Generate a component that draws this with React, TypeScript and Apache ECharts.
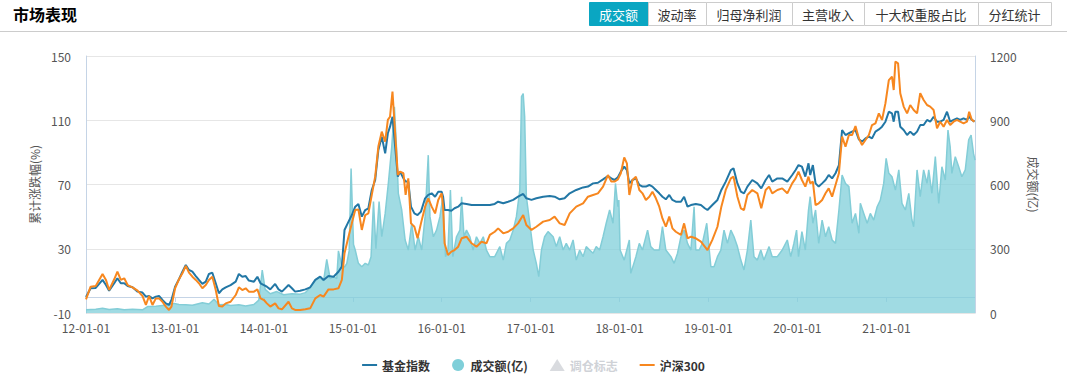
import React, { useEffect, useRef } from 'react';
import * as echarts from 'echarts';

// ---------- data ----------
const lineDates: string[] = [
  '2012-01-01','2012-01-20','2012-02-10','2012-03-09','2012-03-23','2012-04-05','2012-04-26','2012-05-09','2012-05-23','2012-06-06',
  '2012-06-20','2012-07-10','2012-07-31','2012-08-20','2012-09-03','2012-09-16','2012-09-30','2012-10-14','2012-10-27','2012-11-10',
  '2012-11-24','2012-12-07','2012-12-17','2013-01-01','2013-01-17','2013-01-31','2013-02-14','2013-02-27','2013-03-13','2013-03-27',
  '2013-04-09','2013-04-23','2013-05-07','2013-05-20','2013-06-03','2013-06-17','2013-06-30','2013-07-14','2013-07-28','2013-08-17',
  '2013-09-07','2013-09-20','2013-10-04','2013-10-18','2013-10-31','2013-11-21','2013-12-05','2013-12-18','2014-01-01','2014-01-13',
  '2014-01-27','2014-02-16','2014-03-02','2014-03-16','2014-04-12','2014-04-26','2014-05-09','2014-05-30','2014-06-20','2014-07-10',
  '2014-07-31','2014-08-20','2014-09-03','2014-09-23','2014-10-14','2014-11-03','2014-11-17','2014-11-28','2014-12-11','2014-12-28',
  '2015-01-11','2015-01-24','2015-02-07','2015-02-21','2015-03-06','2015-03-20','2015-04-03','2015-04-16','2015-04-30','2015-05-14',
  '2015-05-25','2015-06-03','2015-06-13','2015-06-24','2015-07-05','2015-07-14','2015-07-28','2015-08-06','2015-08-17','2015-08-28',
  '2015-09-11','2015-09-24','2015-10-08','2015-10-25','2015-11-07','2015-11-21','2015-12-05','2015-12-18','2016-01-01','2016-01-07',
  '2016-01-13','2016-01-27','2016-02-10','2016-02-23','2016-03-09','2016-03-23','2016-04-12','2016-05-03','2016-05-23','2016-06-13',
  '2016-07-03','2016-07-17','2016-08-06','2016-08-20','2016-09-10','2016-09-30','2016-10-21','2016-11-10','2016-12-01','2016-12-14',
  '2017-01-04','2017-01-24','2017-02-21','2017-03-20','2017-04-09','2017-04-30','2017-05-20','2017-06-10','2017-07-07','2017-08-04',
  '2017-08-24','2017-09-14','2017-10-04','2017-10-25','2017-11-14','2017-11-28','2017-12-11','2017-12-25','2018-01-06','2018-01-20',
  '2018-01-31','2018-02-10','2018-02-23','2018-03-09','2018-03-23','2018-04-05','2018-04-19','2018-05-03','2018-05-16','2018-05-30',
  '2018-06-13','2018-06-26','2018-07-10','2018-07-24','2018-08-06','2018-08-20','2018-09-10','2018-09-23','2018-10-07','2018-10-21',
  '2018-11-10','2018-12-01','2018-12-17','2018-12-28','2019-01-17','2019-02-07','2019-02-23','2019-03-13','2019-04-03','2019-04-14',
  '2019-04-30','2019-05-14','2019-05-27','2019-06-10','2019-06-30','2019-07-21','2019-08-06','2019-08-24','2019-09-07','2019-09-20',
  '2019-10-11','2019-10-31','2019-11-21','2019-12-11','2019-12-25','2020-01-06','2020-01-20','2020-02-03','2020-02-16','2020-02-23',
  '2020-03-05','2020-03-16','2020-03-29','2020-04-12','2020-04-26','2020-05-09','2020-05-23','2020-06-06','2020-06-20','2020-07-03',
  '2020-07-17','2020-07-31','2020-08-13','2020-08-27','2020-09-10','2020-09-23','2020-10-07','2020-10-21','2020-11-03','2020-11-17',
  '2020-12-01','2020-12-14','2020-12-28','2021-01-11','2021-01-24','2021-01-31','2021-02-07','2021-02-18','2021-02-27','2021-03-13',
  '2021-03-27','2021-04-09','2021-04-23','2021-05-07','2021-05-20','2021-06-03','2021-06-17','2021-06-30','2021-07-14','2021-07-28',
  '2021-08-10','2021-08-24','2021-09-07','2021-09-20','2021-10-04','2021-10-18','2021-10-31','2021-11-14','2021-11-28','2021-12-07',
  '2021-12-18','2021-12-29'
];

const fundIndex: number[] = [
  0, 5.4, 5.6, 10.6, 7.4, 3.9, 8.5, 11.6, 8.5, 8.5,
  6.8, 6.0, 3.3, 2.7, 0.2, 0.6, -0.9, 0.2, 0.6, -1.9,
  -4.0, -5.0, -1.9, 6.4, 11.0, 15.7, 19.9, 16.8, 15.7, 13.0,
  10.6, 8.1, 9.5, 14.3, 15.1, 8.5, 2.3, 4.7, 6.0, 7.4,
  9.5, 14.3, 12.6, 13.0, 10.2, 9.5, 12.6, 8.5, 7.4, 6.4,
  4.7, 8.1, 4.7, 3.3, 7.4, 5.4, 3.3, 3.9, 4.7, 6.0,
  10.6, 12.6, 10.6, 13.0, 12.6, 15.7, 18.9, 41.7, 45.8, 51.0,
  56.2, 57.9, 50.0, 54.1, 55.2, 66.6, 72.8, 91.5, 99.8, 89.4,
  101.9, 106.0, 112.2, 93.6, 74.9, 78.0, 73.8, 71.8, 71.8, 56.2,
  52.0, 51.0, 53.1, 61.4, 63.5, 64.5, 62.4, 65.5, 65.5, 62.4,
  54.1, 54.1, 53.7, 55.2, 56.2, 58.3, 57.9, 57.2, 57.2, 57.2,
  57.2, 57.2, 57.9, 59.3, 58.3, 59.3, 60.4, 62.4, 64.1, 61.4,
  60.4, 61.4, 62.4, 62.8, 62.4, 60.8, 61.4, 64.5, 66.6, 68.2,
  68.7, 70.7, 71.1, 73.2, 75.3, 73.8, 72.8, 74.5, 78.0, 81.1,
  79.0, 70.7, 72.8, 73.8, 69.7, 68.7, 68.7, 69.7, 68.7, 66.6,
  64.5, 62.4, 60.8, 63.5, 60.4, 59.3, 59.3, 62.4, 56.2, 57.2,
  57.9, 57.2, 55.2, 54.1, 57.2, 60.4, 66.6, 71.8, 79.0, 80.1,
  70.7, 65.5, 64.5, 68.7, 72.8, 70.7, 67.6, 72.8, 75.9, 71.8,
  73.8, 73.8, 71.8, 75.9, 79.0, 82.1, 81.1, 74.9, 83.2, 75.9,
  82.1, 70.7, 68.7, 70.7, 72.8, 75.9, 73.8, 77.0, 82.1, 103.9,
  100.8, 101.9, 102.9, 103.9, 98.1, 96.7, 98.7, 99.8, 98.7, 102.9,
  104.3, 106.0, 109.1, 115.3, 114.3, 109.1, 115.3, 115.3, 106.0, 103.9,
  100.8, 102.9, 100.8, 102.9, 107.0, 107.0, 110.2, 109.1, 112.2, 109.1,
  109.1, 110.2, 115.3, 109.1, 110.2, 111.2, 110.2, 111.2, 110.2, 112.2,
  110.2, 109.1
];

const hs300: number[] = [
  -1.5, 6.4, 6.8, 14.3, 10.6, 4.3, 11.0, 15.7, 10.6, 11.6,
  7.4, 6.0, 3.9, 0.6, -5.0, 0.6, -5.0, -0.9, -0.9, -3.0,
  -6.0, -8.1, -6.0, 5.4, 11.0, 14.7, 19.3, 15.1, 12.6, 10.6,
  8.5, 5.4, 7.4, 10.6, 12.6, 4.3, -5.6, -6.0, -4.0, -3.0,
  1.2, 6.0, 4.3, 5.4, 3.3, 3.3, 4.7, -0.9, -1.9, -4.0,
  -6.0, -4.0, -7.1, -7.7, -3.0, -7.1, -8.1, -8.1, -7.7, -7.1,
  -0.9, 1.2, 0.2, 4.7, 4.7, 5.4, 10.6, 27.2, 35.5, 45.8,
  54.1, 54.5, 41.7, 51.0, 52.0, 63.5, 74.9, 93.6, 102.9, 96.7,
  110.2, 112.2, 127.8, 101.9, 75.9, 78.0, 77.0, 63.5, 73.8, 45.8,
  43.7, 36.5, 45.8, 56.2, 61.4, 56.2, 52.0, 60.4, 64.5, 56.2,
  33.4, 26.1, 28.2, 29.2, 31.3, 36.5, 37.5, 33.4, 31.3, 34.4,
  33.4, 38.6, 40.6, 42.7, 39.6, 40.6, 42.7, 45.8, 51.0, 44.8,
  41.7, 43.7, 46.9, 47.9, 50.0, 45.8, 44.8, 52.0, 56.2, 58.3,
  62.4, 63.5, 64.5, 68.7, 75.9, 71.8, 71.8, 73.2, 77.0, 86.9,
  83.2, 63.5, 72.8, 74.9, 66.6, 64.5, 60.4, 62.4, 65.5, 61.4,
  56.2, 48.9, 43.7, 50.0, 42.7, 40.6, 38.6, 45.8, 36.5, 37.5,
  36.5, 34.4, 31.3, 29.2, 35.5, 43.7, 56.2, 66.6, 73.8, 74.9,
  62.4, 55.2, 54.1, 63.5, 66.6, 64.5, 55.2, 66.6, 68.7, 64.5,
  66.6, 67.6, 64.5, 70.7, 73.8, 78.0, 72.8, 68.7, 74.9, 70.7,
  71.8, 57.2, 58.3, 60.4, 64.5, 67.6, 62.4, 69.7, 77.0, 99.8,
  93.6, 100.8, 100.8, 106.4, 98.7, 94.6, 97.7, 100.8, 107.0, 108.1,
  114.3, 110.2, 120.5, 135.0, 137.1, 128.8, 146.5, 145.4, 126.8, 118.5,
  114.3, 119.5, 116.4, 114.3, 126.8, 122.6, 119.5, 118.5, 116.4, 105.0,
  109.1, 106.0, 110.2, 107.0, 109.1, 110.2, 109.1, 108.1, 109.1, 115.3,
  110.2, 109.1
];

const volDates: string[] = [
  '2012-01-01','2012-02-10','2012-03-09','2012-04-05','2012-05-09','2012-06-06','2012-07-10','2012-08-20','2012-09-10','2012-10-14',
  '2012-11-10','2012-12-07','2012-12-28','2013-01-17','2013-02-14','2013-03-13','2013-04-23','2013-05-20','2013-06-10','2013-06-30',
  '2013-07-28','2013-08-17','2013-09-20','2013-10-18','2013-11-21','2013-12-11','2013-12-25','2014-01-06','2014-01-27','2014-02-23',
  '2014-03-23','2014-04-26','2014-05-30','2014-06-20','2014-07-10','2014-07-31','2014-08-20','2014-09-03','2014-09-16','2014-09-30',
  '2014-10-14','2014-10-27','2014-11-03','2014-11-17','2014-11-28','2014-12-07','2014-12-17','2014-12-25','2015-01-04','2015-01-11',
  '2015-01-24','2015-02-07','2015-02-21','2015-03-06','2015-03-17','2015-03-27','2015-04-06','2015-04-19','2015-04-30','2015-05-14',
  '2015-05-27','2015-06-10','2015-06-21','2015-06-30','2015-07-07','2015-07-21','2015-08-04','2015-08-17','2015-08-31','2015-09-14',
  '2015-09-27','2015-10-11','2015-10-25','2015-11-07','2015-11-14','2015-11-28','2015-12-11','2015-12-25','2016-01-06','2016-01-17',
  '2016-01-27','2016-02-06','2016-02-16','2016-03-02','2016-03-16','2016-03-23','2016-04-02','2016-04-12','2016-04-26','2016-05-09',
  '2016-05-23','2016-06-06','2016-06-20','2016-07-03','2016-07-17','2016-08-06','2016-08-27','2016-09-10','2016-09-23','2016-10-07',
  '2016-10-21','2016-11-03','2016-11-17','2016-11-24','2016-12-01','2016-12-07','2016-12-14','2016-12-28','2017-01-11','2017-01-24',
  '2017-02-03','2017-02-14','2017-02-27','2017-03-13','2017-04-03','2017-04-16','2017-04-30','2017-05-14','2017-05-27','2017-06-10',
  '2017-06-24','2017-07-07','2017-07-21','2017-08-04','2017-08-17','2017-08-31','2017-09-14','2017-09-27','2017-10-11','2017-10-25',
  '2017-11-07','2017-11-21','2017-12-05','2017-12-15','2017-12-25','2017-12-29','2018-01-03','2018-01-20','2018-02-10','2018-02-16',
  '2018-03-09','2018-03-23','2018-04-05','2018-04-26','2018-05-09','2018-05-23','2018-06-13','2018-06-26','2018-07-10','2018-07-31',
  '2018-08-13','2018-08-27','2018-09-10','2018-09-23','2018-10-07','2018-10-21','2018-11-03','2018-11-10','2018-11-24','2018-12-07',
  '2018-12-25','2019-01-11','2019-01-24','2019-02-07','2019-02-21','2019-03-06','2019-03-20','2019-04-03','2019-04-16','2019-04-30',
  '2019-05-14','2019-05-27','2019-06-10','2019-06-24','2019-07-07','2019-07-21','2019-08-04','2019-08-17','2019-09-07','2019-09-20',
  '2019-10-11','2019-10-31','2019-11-21','2019-12-05','2019-12-18','2019-12-29','2020-01-06','2020-01-20','2020-02-03','2020-02-16',
  '2020-02-23','2020-03-05','2020-03-16','2020-03-29','2020-04-12','2020-04-26','2020-05-09','2020-05-23','2020-06-06','2020-06-20',
  '2020-07-03','2020-07-17','2020-07-31','2020-08-13','2020-08-27','2020-09-10','2020-09-16','2020-09-30','2020-10-14','2020-10-27',
  '2020-11-10','2020-11-24','2020-12-07','2020-12-21','2020-12-31','2021-01-11','2021-01-24','2021-02-07','2021-02-21','2021-03-06',
  '2021-03-20','2021-04-03','2021-04-16','2021-04-23','2021-05-07','2021-05-20','2021-06-03','2021-06-17','2021-06-24','2021-07-07',
  '2021-07-21','2021-08-04','2021-08-17','2021-08-31','2021-09-11','2021-09-20','2021-09-27','2021-10-11','2021-10-25','2021-11-07',
  '2021-11-21','2021-12-05','2021-12-15','2021-12-25','2021-12-31'
];

const volume: number[] = [
  15, 18, 22, 16, 20, 15, 17, 15, 30, 32,
  35, 38, 45, 40, 38, 36, 48, 42, 64, 38,
  40, 35, 38, 33, 40, 60, 200, 110, 90, 100,
  85, 90, 88, 95, 120, 155, 170, 150, 250, 160,
  170, 160, 290, 220, 215, 230, 290, 675, 320, 294,
  232, 216, 232, 224, 263, 520, 300, 520, 356, 465,
  605, 776, 963, 761, 559, 481, 341, 294, 419, 294,
  356, 294, 450, 737, 450, 356, 387, 450, 543, 263,
  294, 574, 263, 356, 387, 543, 356, 387, 356, 294,
  356, 325, 356, 294, 263, 263, 310, 247, 325, 341,
  387, 450, 574, 1010, 1025, 917, 543, 419, 294, 232,
  170, 294, 356, 380, 356, 310, 356, 294, 325, 294,
  341, 247, 294, 263, 310, 294, 279, 310, 294, 356,
  419, 481, 419, 605, 496, 527, 294, 247, 341, 185,
  263, 325, 294, 387, 310, 294, 294, 403, 294, 263,
  232, 279, 356, 387, 325, 294, 496, 294, 294, 325,
  419, 216, 216, 263, 294, 387, 325, 387, 356, 310,
  247, 201, 294, 434, 263, 247, 294, 247, 310, 263,
  263, 294, 341, 263, 325, 387, 263, 380, 294, 481,
  543, 419, 481, 325, 434, 356, 403, 341, 325, 481,
  644, 605, 590, 419, 465, 372, 512, 465, 419, 465,
  434, 496, 527, 605, 722, 652, 636, 574, 668, 512,
  481, 559, 434, 403, 668, 543, 668, 605, 668, 559,
  730, 512, 683, 621, 854, 776, 652, 730, 683, 636,
  668, 808, 831, 745, 714
];

const leftTicks: number[] = [-10, 30, 70, 110, 150];
const seriesNames = { fund: '基金指数', vol: '成交额(亿)', mark: '调仓标志', hs: '沪深300' };
const tabLabels: string[] = ['成交额', '波动率', '归母净利润', '主营收入', '十大权重股占比', '分红统计'];
const titleText = '市场表现';

// ---------- layout / style ----------
const FONT = '"Noto Sans CJK SC", "Noto Sans", sans-serif';
const tabEdges = [589, 648, 706, 792, 864, 978, 1051];
const BLUE = '#2277a5';
const ORANGE = '#f7871f';
const TEAL = '#7fcfd9';
const AXIS = '#c5d4e6';

function fmtDate(v: number): string {
  const d = new Date(v);
  const yy = String(d.getFullYear()).slice(2);
  const mm = String(d.getMonth() + 1).padStart(2, '0');
  const dd = String(d.getDate()).padStart(2, '0');
  return `${yy}-${mm}-${dd}`;
}

export default function App() {
  const ref = useRef<HTMLDivElement>(null);

  useEffect(() => {
    if (!ref.current) return;
    const chart = echarts.init(ref.current, undefined, { renderer: 'svg' });

    const graphic: any[] = [
      {
        type: 'text', left: 13, top: 6,
        style: { text: titleText, fontSize: 16, fontWeight: 'bold', fill: '#000', fontFamily: FONT },
      },
      {
        type: 'line', shape: { x1: 0, y1: 31.5, x2: 1067, y2: 31.5 },
        style: { stroke: '#cccccc', lineWidth: 1 },
      },
    ];
    tabLabels.forEach((t, i) => {
      const x0 = tabEdges[i];
      const x1 = tabEdges[i + 1];
      const active = i === 0;
      graphic.push({
        type: 'rect',
        shape: { x: x0 + 0.5, y: 2.5, width: x1 - x0, height: 23 },
        style: { fill: active ? '#0aa6c2' : '#ffffff', stroke: active ? '#0aa6c2' : '#cccccc', lineWidth: 1 },
        z: 1,
      });
      graphic.push({
        type: 'text',
        x: (x0 + x1) / 2, y: 14,
        style: {
          text: t, align: 'center', verticalAlign: 'middle',
          fontSize: 13, fill: active ? '#ffffff' : '#333333', fontFamily: FONT,
        },
        z: 2,
      });
    });

    const linePath = 'path://M0,0H15V2H0Z';

    chart.setOption({
      animation: false,
      textStyle: { fontFamily: FONT },
      graphic,
      grid: { left: 86, right: 92, top: 56, bottom: 74 },
      legend: {
        top: 354,
        left: 'center',
        itemWidth: 15,
        itemHeight: 12,
        itemGap: 22,
        textStyle: { fontSize: 12, fontWeight: 'bold', color: '#333', fontFamily: FONT },
        data: [
          { name: seriesNames.fund, icon: linePath },
          { name: seriesNames.vol, icon: 'circle' },
          { name: seriesNames.mark, icon: 'triangle' },
          { name: seriesNames.hs, icon: linePath },
        ],
        selected: { [seriesNames.mark]: false },
      },
      xAxis: {
        type: 'time',
        min: new Date(2012, 0, 1).getTime(),
        max: new Date(2021, 11, 31).getTime(),
        splitNumber: 10,
        minInterval: 365 * 86400000,
        axisLine: { show: true, lineStyle: { color: AXIS } },
        axisTick: { show: true, length: 5, lineStyle: { color: AXIS } },
        axisLabel: {
          color: '#555', fontSize: 12, margin: 8, showMaxLabel: false,
          formatter: (v: number) => fmtDate(v),
        },
        splitLine: { show: false },
      },
      yAxis: [
        {
          type: 'value',
          position: 'left',
          min: -10,
          max: 150,
          name: '累计涨跌幅(%)',
          nameLocation: 'middle',
          nameGap: 46,
          nameTextStyle: { color: '#555', fontSize: 12 },
          axisLine: { show: true, lineStyle: { color: AXIS } },
          axisTick: { show: false, customValues: leftTicks },
          axisLabel: { color: '#555', fontSize: 12, margin: 15, customValues: leftTicks },
          splitLine: { show: true, lineStyle: { color: '#e6e6e6' } },
        },
        {
          type: 'value',
          position: 'right',
          min: 0,
          max: 1200,
          interval: 300,
          name: '成交额(亿)',
          nameLocation: 'middle',
          nameRotate: -90,
          nameGap: 52,
          nameTextStyle: { color: '#555', fontSize: 12 },
          axisLine: { show: true, lineStyle: { color: AXIS } },
          axisTick: { show: false },
          axisLabel: { color: '#555', fontSize: 12, margin: 15, formatter: (v: number) => String(v) },
          splitLine: { show: false },
        },
      ],
      series: [
        {
          name: seriesNames.vol,
          type: 'line',
          yAxisIndex: 1,
          showSymbol: false,
          symbol: 'none',
          data: volDates.map((d, i) => [d, volume[i]]),
          lineStyle: { color: '#83cdd7', width: 1.5 },
          itemStyle: { color: TEAL },
          areaStyle: { color: TEAL, opacity: 0.74 },
          z: 1,
        },
        {
          name: seriesNames.fund,
          type: 'line',
          showSymbol: false,
          symbol: 'none',
          data: lineDates.map((d, i) => [d, fundIndex[i]]),
          lineStyle: { color: BLUE, width: 2 },
          itemStyle: { color: BLUE },
          z: 3,
        },
        {
          name: seriesNames.mark,
          type: 'scatter',
          symbol: 'triangle',
          data: [],
          itemStyle: { color: '#999' },
        },
        {
          name: seriesNames.hs,
          type: 'line',
          showSymbol: false,
          symbol: 'none',
          data: lineDates.map((d, i) => [d, hs300[i]]),
          lineStyle: { color: ORANGE, width: 2 },
          itemStyle: { color: ORANGE },
          z: 4,
        },
      ],
    });

    return () => chart.dispose();
  }, []);

  return (
    <div
      ref={ref}
      style={{ position: 'fixed', left: 0, top: 0, width: 1067, height: 387, background: '#fff' }}
    />
  );
}
